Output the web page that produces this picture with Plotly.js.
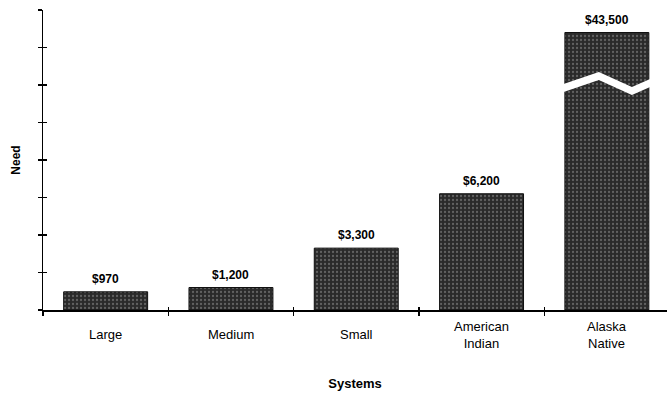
<!DOCTYPE html>
<html>
<head>
<meta charset="utf-8">
<script src="https://cdn.plot.ly/plotly-3.0.1.min.js"></script>
<style>html,body{margin:0;padding:0;background:#fff;}#chart{width:667px;height:393px;}</style>
</head>
<body>
<div id="chart"></div>
<script>
// ---- data ----
const categories = ["Large", "Medium", "Small", "American<br>Indian", "Alaska<br>Native"];
const needValues = [970, 1200, 3300, 6200, 43500];
const valueLabels = ["$970", "$1,200", "$3,300", "$6,200", "$43,500"];
// broken-axis display cap (bars above this are drawn cut, with a break mark)
const breakCap = 14800;
const yMax = 16000;
const yStep = 2000;

const shownValues = needValues.map(v => Math.min(v, breakCap));
const idx = categories.map((c, i) => i);

const font = "Liberation Sans, Arial, sans-serif";

const traces = [
  {
    type: "bar",
    x: idx,
    y: shownValues,
    width: 0.67,
    marker: {
      color: "#2a2a2a",
      line: {color: "#111", width: 1},
      pattern: {shape: ".", fgcolor: "#9a9a9a", bgcolor: "#2a2a2a", size: 4, solidity: 0.25, fillmode: "overlay"}
    },
    hoverinfo: "skip",
    showlegend: false
  },
  {
    type: "scatter", mode: "markers", x: [0], y: [0], yaxis: "y2", xaxis: "x2",
    marker: {opacity: 0}, showlegend: false, hoverinfo: "skip"
  }
];

// break mark path for bars above cap (data coords on index axis)
const shapes = [];
needValues.forEach((v, i) => {
  if (v > breakCap) {
    const hw = 0.345;
    const pts = [
      [i - hw, 12053], [i - 0.064, 12693], [i + 0.2, 11893], [i + hw, 12320]
    ];
    const th = 430;
    let p = "M" + pts.map(q => q[0] + "," + q[1]).join(" L");
    for (let k = pts.length - 1; k >= 0; k--) p += " L" + pts[k][0] + "," + (pts[k][1] - th);
    p += " Z";
    shapes.push({type: "path", xref: "x", yref: "y", path: p, fillcolor: "#fff", line: {width: 0}});
  }
});

const annotations = categories.map((c, i) => ({
  x: i, xref: "x", y: -0.083, yref: "paper", yanchor: "middle", xanchor: "center",
  text: c, showarrow: false, font: {family: font, size: 13, color: "#000"}
})).concat(valueLabels.map((t, i) => ({
  x: i, xref: "x", y: shownValues[i], yref: "y", yanchor: "bottom", xanchor: "center", yshift: 4,
  text: t, showarrow: false, font: {family: font, size: 12, color: "#000", weight: "bold"}
})));

const layout = {
  width: 667, height: 393,
  margin: {l: 43, r: 0, t: 10, b: 83},
  paper_bgcolor: "#fff", plot_bgcolor: "#fff",
  xaxis: {
    type: "linear", range: [-0.5, 4.48],
    showgrid: false, zeroline: false,
    showline: true, linecolor: "#000", linewidth: 1.5,
    tickvals: [-0.5, 0.5, 1.5, 2.5, 3.5], ticktext: ["", "", "", "", ""],
    ticks: "outside", ticklen: 4, tickwidth: 1.2, tickcolor: "#000",
    title: {text: "Systems", font: {family: font, size: 13, color: "#000", weight: "bold"}, standoff: 62}
  },
  xaxis2: {
    overlaying: "x", anchor: "y", range: [-0.5, 4.48], showgrid: false, zeroline: false,
    showline: false, tickvals: [-0.5, 0.5, 1.5, 2.5, 3.5], ticktext: ["", "", "", "", ""],
    ticks: "inside", ticklen: 3, tickwidth: 1.2, tickcolor: "#000", showticklabels: false
  },
  yaxis: {
    range: [0, yMax], dtick: yStep, tick0: 0,
    showgrid: false, zeroline: false, showticklabels: false,
    showline: true, linecolor: "#000", linewidth: 1.5,
    ticks: "outside", ticklen: 4, tickwidth: 1.2, tickcolor: "#000",
    title: {text: "Need", font: {family: font, size: 12, color: "#000", weight: "bold"}, standoff: 14}
  },
  yaxis2: {
    overlaying: "y", anchor: "x", range: [0, yMax], dtick: yStep, tick0: 0,
    showgrid: false, zeroline: false, showticklabels: false, showline: false,
    ticks: "inside", ticklen: 4, tickwidth: 1.2, tickcolor: "#000"
  },
  shapes: shapes,
  annotations: annotations,
  bargap: 0.33
};

Plotly.newPlot("chart", traces, layout, {staticPlot: true, displayModeBar: false});
</script>
</body>
</html>
